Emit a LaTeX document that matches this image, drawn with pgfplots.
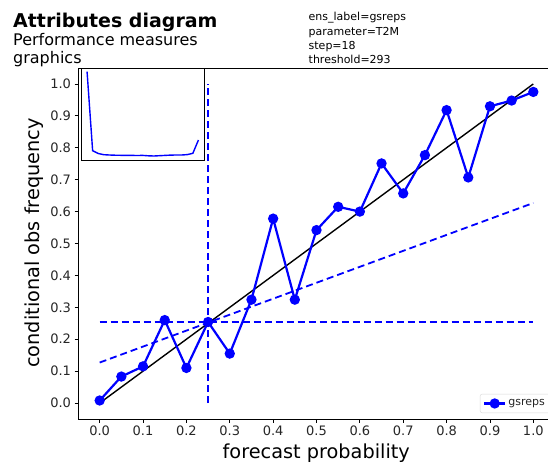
\documentclass[border=0pt]{standalone}
\usepackage{pgfplots}
\pgfplotsset{compat=1.18}
\usepackage{fontspec}
\setmainfont{DejaVu Sans}
\definecolor{mplblue}{RGB}{0,0,255}
\begin{document}
\begin{tikzpicture}
\useasboundingbox (0,0) rectangle (548pt,-463pt);
\clip (0,0) rectangle (548pt,-463pt);
% main axis
\begin{axis}[
  at={(78pt,-419pt)}, anchor=south west,
  scale only axis, width=477pt, height=351pt,
  xmin=-0.05, xmax=1.05, ymin=-0.05, ymax=1.05,
  xtick={0,0.1,0.2,0.3,0.4,0.5,0.6,0.7,0.8,0.9,1.0},
  xticklabels={0.0,0.1,0.2,0.3,0.4,0.5,0.6,0.7,0.8,0.9,1.0},
  ytick={0,0.1,0.2,0.3,0.4,0.5,0.6,0.7,0.8,0.9,1.0},
  yticklabels={0.0,0.1,0.2,0.3,0.4,0.5,0.6,0.7,0.8,0.9,1.0},
  tick align=outside, tick pos=left,
  major tick length=3.5pt,
  tick style={black, line width=0.8pt},
  axis line style={line width=0.8pt},
  ticklabel style={font=\fontsize{13}{15}\selectfont, text=black!85},
  /pgf/number format/assume math mode=true,
  legend style={at={(axis description cs:1,0)}, anchor=south east,
    xshift=-5pt, yshift=6pt, draw=black!15, rounded corners=2pt,
    font=\fontsize{11}{13}\selectfont, inner xsep=3pt, inner ysep=3.5pt, text=black!85},
  legend image code/.code={\draw[mark repeat=2,mark phase=2] plot coordinates {(0pt,0pt) (10.5pt,0pt) (21pt,0pt)};},
  legend cell align=left,
  clip=false,
]
\addplot[black, line width=1.4pt, forget plot] coordinates {(0,0) (1,1)};
\addplot[mplblue, line width=1.8pt, dash pattern=on 7pt off 4pt, forget plot] coordinates {(0,0.254) (1,0.254)};
\addplot[mplblue, line width=1.8pt, dash pattern=on 7pt off 4pt, forget plot] coordinates {(0.25,0) (0.25,1)};
\addplot[mplblue, line width=1.8pt, dash pattern=on 7pt off 4pt, forget plot] coordinates {(0,0.127) (1,0.627)};
\addplot[mplblue, line width=2.2pt, mark=*, mark size=4pt, mark options={solid}] coordinates {
(0.00,0.008) (0.05,0.083) (0.10,0.115) (0.15,0.260) (0.20,0.110)
(0.25,0.254) (0.30,0.155) (0.35,0.324) (0.40,0.578) (0.45,0.324)
(0.50,0.542) (0.55,0.615) (0.60,0.600) (0.65,0.751) (0.70,0.657)
(0.75,0.777) (0.80,0.918) (0.85,0.707) (0.90,0.930) (0.95,0.948)
(1.00,0.975)};
\addlegendentry{gsreps}
\end{axis}
% inset
\begin{axis}[
  at={(81.5pt,-160pt)}, anchor=south west,
  scale only axis, width=122.5pt, height=92pt,
  xmin=-0.05, xmax=1.05, ymin=0, ymax=92,
  ticks=none,
  axis line style={line width=0.8pt},
  axis background/.style={fill=white},
]
\addplot[mplblue, line width=1.4pt] coordinates {
(0.00,88.3) (0.05,9.3) (0.10,6.5) (0.15,5.3) (0.20,5.0)
(0.25,4.8) (0.30,4.7) (0.35,4.6) (0.40,4.6) (0.45,4.5)
(0.50,4.6) (0.55,4.2) (0.60,4.0) (0.65,4.3) (0.70,4.6)
(0.75,4.9) (0.80,5.0) (0.85,5.0) (0.90,5.4) (0.95,6.7)
(1.00,20.0)};
\end{axis}
% titles and labels
\node[anchor=base west, inner sep=0pt, font=\fontsize{19}{22}\selectfont\bfseries] at (13pt,-27pt) {Attributes diagram};
\node[anchor=base west, inner sep=0pt, font=\fontsize{16}{19}\selectfont] at (13pt,-45pt) {Performance measures};
\node[anchor=base west, inner sep=0pt, font=\fontsize{16}{19}\selectfont] at (13pt,-63pt) {graphics};
\node[anchor=base west, inner sep=0pt, font=\fontsize{11}{13}\selectfont] at (308.5pt,-20.7pt) {ens\_label=gsreps};
\node[anchor=base west, inner sep=0pt, font=\fontsize{11}{13}\selectfont] at (308.5pt,-35pt) {parameter=T2M};
\node[anchor=base west, inner sep=0pt, font=\fontsize{11}{13}\selectfont] at (308.5pt,-49.3pt) {step=18};
\node[anchor=base west, inner sep=0pt, font=\fontsize{11}{13}\selectfont] at (308.5pt,-63.5pt) {threshold=293};
\node[anchor=base west, inner sep=0pt, font=\fontsize{19.3}{22}\selectfont] at (222.5pt,-458pt) {forecast probability};
\node[rotate=90, anchor=base, inner sep=0pt, font=\fontsize{19.3}{22}\selectfont] at (39pt,-243pt) {conditional obs frequency};
\end{tikzpicture}
\end{document}
